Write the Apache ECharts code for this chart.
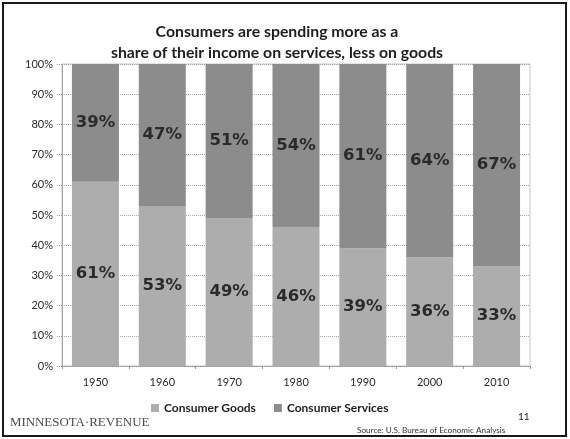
<!DOCTYPE html>
<html>
<head>
<meta charset="utf-8">
<script src="https://cdn.jsdelivr.net/npm/echarts@6/dist/echarts.min.js"></script>
<style>
  html, body { margin: 0; padding: 0; background: #ffffff; }
  #chart { width: 570px; height: 439px; }
</style>
</head>
<body>
<div id="chart"></div>
<script>
// Share of consumer spending, goods vs. services, by decade
const years = ['1950', '1960', '1970', '1980', '1990', '2000', '2010'];
const goodsShare = [61, 53, 49, 46, 39, 36, 33];
const servicesShare = [39, 47, 51, 54, 61, 64, 67];
const yTicks = [0, 10, 20, 30, 40, 50, 60, 70, 80, 90, 100];

const goodsColor = '#adadad';
const servicesColor = '#8c8c8c';

const chart = echarts.init(document.getElementById('chart'), null, { renderer: 'canvas' });

const pctLabel = {
  show: true,
  position: 'inside',
  formatter: p => p.value + '%',
  fontFamily: 'DejaVu Sans',
  fontWeight: 'bold',
  fontSize: 16.5,
  color: '#2a2a2a'
};

chart.setOption({
  backgroundColor: '#ffffff',
  animation: false,
  grid: {
    left: 62, right: 40, top: 64, bottom: 73,
    show: true, borderColor: '#c4c4c4', borderWidth: 1
  },
  legend: {
    data: ['Consumer Goods', 'Consumer Services'],
    left: 146, top: 397,
    icon: 'rect', itemWidth: 8, itemHeight: 8, itemGap: 18,
    textStyle: { fontFamily: 'Lato', fontWeight: 'bold', fontSize: 12, color: '#1e1e1e' }
  },
  xAxis: {
    type: 'category',
    data: years,
    axisLine: { show: true, lineStyle: { color: '#999', type: 'dotted' } },
    axisTick: { show: true, length: 3, lineStyle: { color: '#999' } },
    axisLabel: { fontFamily: 'Lato', fontSize: 11, color: '#2a2a2a', margin: 11 }
  },
  yAxis: {
    type: 'value',
    min: yTicks[0], max: yTicks[yTicks.length - 1], interval: 10,
    axisLine: { show: true, lineStyle: { color: '#999', type: 'dotted' } },
    axisTick: { show: true, length: 5, lineStyle: { color: '#999', type: 'dotted' } },
    splitLine: { show: true, lineStyle: { color: '#a8a8a8', type: 'dotted' } },
    axisLabel: { fontFamily: 'Lato', fontSize: 11, color: '#2a2a2a', margin: 9, formatter: v => v + '%' }
  },
  series: [
    {
      name: 'Consumer Goods', type: 'bar', stack: 'share',
      data: goodsShare, barWidth: 47,
      itemStyle: { color: goodsColor },
      label: pctLabel
    },
    {
      name: 'Consumer Services', type: 'bar', stack: 'share',
      data: servicesShare, barWidth: 47,
      itemStyle: { color: servicesColor },
      label: pctLabel
    }
  ],
  graphic: [
    // slide frame
    { type: 'rect', shape: { x: 3, y: 3, width: 563, height: 433 }, style: { fill: 'none', stroke: '#1a1a1a', lineWidth: 2 }, silent: true },
    // heading
    { type: 'text', x: 277, y: 21, style: {
        text: 'Consumers are spending more as a\nshare of their income on services, less on goods',
        font: 'bold 15.8px Lato', fill: '#1e1e1e', align: 'center', lineHeight: 21 } },
    // footer
    { type: 'text', x: 10, y: 416, style: { text: 'MINNESOTA·REVENUE', font: '12.9px "Liberation Serif"', fill: '#4a4a4a' } },
    { type: 'text', x: 518, y: 412, style: { text: '11', font: '10px Lato', fill: '#222' } },
    { type: 'text', x: 357, y: 426, style: { text: 'Source: U.S. Bureau of Economic Analysis', font: '8.2px Lato', fill: '#333' } }
  ]
});
</script>
</body>
</html>
